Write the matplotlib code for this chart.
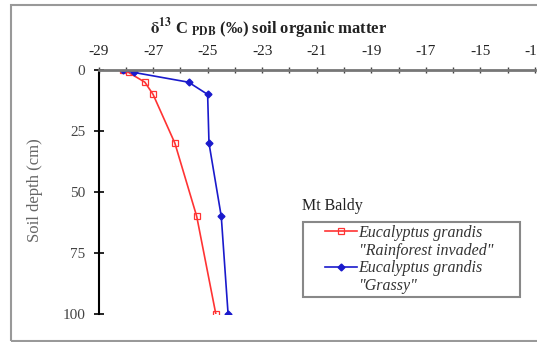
import numpy as np
import matplotlib.pyplot as plt
from matplotlib.patches import Rectangle
from matplotlib.lines import Line2D

plt.rcParams['font.family'] = ['Liberation Serif', 'DejaVu Serif']
plt.rcParams['mathtext.fontset'] = 'stix'
plt.rcParams['axes.unicode_minus'] = False

# depth (cm) and d13C values
depth = [0, 1, 5, 10, 30, 60, 100]
rainforest = [-28.1, -27.9, -27.3, -27.0, -26.2, -25.4, -24.7]
grassy = [-28.1, -27.7, -25.7, -25.0, -24.95, -24.5, -24.25]

xticks = np.arange(-29, -12, 2)
yticks = [0, 25, 50, 75, 100]

fig = plt.figure(figsize=(5.37, 3.42), dpi=100)
W, H = 537, 342
ax = fig.add_axes([98.5 / W, 1 - 314 / H, (535 - 98.5) / W, (314 - 70) / H])

l1, = ax.plot(rainforest, depth, color='#ff3333', lw=1.2, marker='s', ms=4,
              mfc='none', mec='#ff3333', mew=0.9)
l2, = ax.plot(grassy, depth, color='#1a1acc', lw=1.2, marker='D', ms=3.5,
              mfc='#1a1acc', mec='#1a1acc')

ax.set_xlim(-29, -13)
ax.set_ylim(100, 0)
ax.xaxis.tick_top()
ax.set_xticks(xticks)
ax.set_xticklabels([str(v) for v in xticks])
ax.set_xticks(np.arange(-29, -12, 1), minor=True)
ax.set_yticks(yticks)
ax.tick_params(axis='x', which='both', direction='inout', length=5, width=1,
               color='#444444', pad=6, labelsize=11, labelcolor='#222222')
ax.tick_params(axis='y', direction='inout', length=7, width=1.2,
               color='black', pad=6, labelsize=11, labelcolor='#444444')

for s in ['right', 'bottom']:
    ax.spines[s].set_visible(False)
ax.spines['top'].set_color('#777777')
ax.spines['top'].set_linewidth(2)
ax.spines['left'].set_color('black')
ax.spines['left'].set_linewidth(1.5)

ax.set_ylabel('Soil depth (cm)', fontsize=12, color='#666666')
ax.yaxis.set_label_coords(-0.127, 0.508)

fig.text(269 / W, 1 - 29 / H,
         r'$\mathbf{\delta^{13}}$ C $_{\mathbf{PDB}}$ (‰) soil organic matter',
         ha='center', va='center', fontsize=12, fontweight='bold', color='#222222')

fig.text(302 / W, 1 - 206 / H, 'Mt Baldy', ha='left', va='center',
         fontsize=11.5, color='#222222')

# key sits on the first line of each two-line label
blank = Line2D([], [], alpha=0)
handles = [l1, blank, l2, blank]
labels = ['Eucalyptus grandis', '"Rainforest invaded"',
          'Eucalyptus grandis', '"Grassy"']
leg = ax.legend(handles, labels, loc='upper left',
                bbox_to_anchor=(325 / W, 1 - 225 / H),
                bbox_transform=fig.transFigure, frameon=False,
                prop={'style': 'italic', 'size': 11.5}, handlelength=2.0,
                borderpad=0, labelspacing=0.1, handletextpad=0.1,
                borderaxespad=0)
for t in leg.get_texts():
    t.set_color('#333333')

# legend box and outer chart frame
fig.patches.append(Rectangle((303 / W, 1 - 297 / H), (520 - 303) / W, (297 - 222) / H,
                             transform=fig.transFigure, fill=False,
                             edgecolor='#888888', lw=1.5))
fig.patches.append(Rectangle((11 / W, 1 - 341 / H), 1.0, (341 - 5) / H,
                             transform=fig.transFigure, fill=False,
                             edgecolor='#999999', lw=1.5))

fig.savefig('out.png', dpi=100)
